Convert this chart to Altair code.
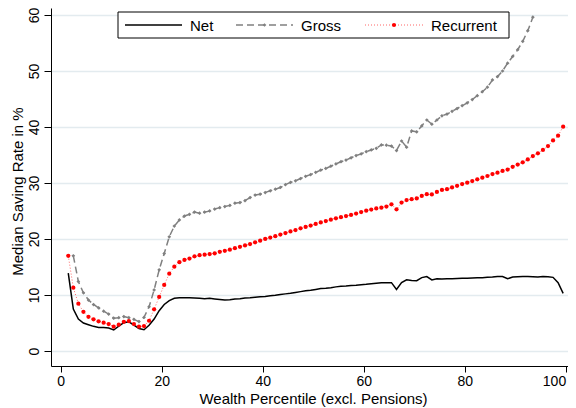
import altair as alt
import pandas as pd

# Percentile positions (midpoints)
percentiles = [p + 0.5 for p in range(1, 100)]          # 1.5 .. 99.5
gross_percentiles = [p + 0.5 for p in range(2, 94)]     # 2.5 .. 93.5

net = [
    13.9, 7.5, 5.7, 5.0, 4.7, 4.4, 4.2, 4.2, 4.1, 3.75,
    4.45, 5.05, 5.2, 4.6, 4.0, 3.8, 4.6, 5.7, 7.2, 8.3,
    9.0, 9.4, 9.5, 9.5, 9.5, 9.45, 9.4, 9.35, 9.4, 9.3,
    9.2, 9.1, 9.15, 9.3, 9.35, 9.45, 9.5, 9.6, 9.7, 9.75,
    9.85, 9.95, 10.1, 10.2, 10.3, 10.45, 10.6, 10.75, 10.85, 11.0,
    11.15, 11.2, 11.3, 11.45, 11.55, 11.6, 11.7, 11.75, 11.85, 11.9,
    12.0, 12.1, 12.2, 12.2, 12.2, 11.0, 12.2, 12.7, 12.6, 12.55,
    13.1, 13.3, 12.7, 12.9, 12.85, 12.9, 12.9, 12.95, 13.0, 13.0,
    13.05, 13.1, 13.1, 13.15, 13.2, 13.3, 13.3, 12.9, 13.2, 13.25,
    13.3, 13.3, 13.25, 13.2, 13.3, 13.25, 13.15, 12.2, 10.3,
]

gross = [
    17.0, 12.4, 10.4, 9.1, 8.3, 7.7, 7.1, 6.6, 5.85, 5.95,
    6.15, 5.95, 5.65, 5.25, 6.0, 7.9, 10.9, 14.5, 17.4, 20.4,
    22.3, 23.4, 24.1, 24.4, 24.8, 24.6, 24.8, 25.0, 25.35, 25.6,
    25.8, 26.0, 26.4, 26.5, 26.85, 27.4, 27.85, 28.0, 28.3, 28.6,
    28.9, 29.2, 29.7, 30.1, 30.4, 30.8, 31.2, 31.5, 31.9, 32.3,
    32.6, 33.0, 33.4, 33.8, 34.1, 34.5, 34.9, 35.2, 35.6, 35.9,
    36.2, 36.8, 36.75, 36.6, 35.8, 37.5, 36.4, 39.3, 39.15, 40.2,
    41.25, 40.5, 41.25, 42.0, 42.3, 42.8, 43.3, 43.8, 44.3, 44.9,
    45.6, 46.3, 47.1, 48.4, 49.0, 50.0, 51.4, 52.6, 53.8, 55.3,
    57.2, 59.6,
]

recurrent = [
    17.0, 11.3, 8.45, 7.0, 6.1, 5.65, 5.3, 5.05, 4.8, 4.35,
    4.7, 5.2, 5.35, 4.8, 4.35, 4.45, 5.4, 7.45, 9.65, 11.8,
    13.8, 15.05, 15.85, 16.25, 16.5, 16.9, 17.1, 17.2, 17.3, 17.45,
    17.7, 17.9, 18.1, 18.35, 18.6, 18.85, 19.1, 19.4, 19.7, 20.0,
    20.25, 20.5, 20.8, 21.05, 21.35, 21.6, 21.9, 22.15, 22.4, 22.7,
    22.95, 23.2, 23.45, 23.7, 23.9, 24.1, 24.3, 24.55, 24.8, 25.05,
    25.25, 25.45, 25.6, 25.8, 26.2, 25.3, 26.5, 26.95, 27.1, 27.25,
    27.7, 28.0, 27.95, 28.4, 28.75, 28.9, 29.2, 29.5, 29.8, 30.05,
    30.35, 30.65, 30.95, 31.25, 31.6, 31.85, 32.15, 32.4, 32.9, 33.3,
    33.7, 34.2, 34.8, 35.3, 35.9, 36.6, 37.6, 38.45, 40.05,
]

x_ticks = [0, 20, 40, 60, 80, 100]
y_ticks = [0, 10, 20, 30, 40, 50, 60]
legend_labels = ["Net", "Gross", "Recurrent"]

net_df = pd.DataFrame({"pct": percentiles, "rate": net})
gross_df = pd.DataFrame({"pct": gross_percentiles, "rate": gross})
rec_df = pd.DataFrame({"pct": percentiles, "rate": recurrent})
one = pd.DataFrame({"k": [0]})

FONT = "Liberation Sans"
W, H = 517, 358

xscale = alt.Scale(domain=[-1.92, 100.46], nice=False, zero=False)
yscale = alt.Scale(domain=[-2.68, 61.25], nice=False, zero=False)

x_axis = alt.Axis(
    values=x_ticks, title="Wealth Percentile (excl. Pensions)", grid=False,
    tickSize=6, labelPadding=2, labelFontSize=14, titleFontSize=15,
    titleX=262, titleY=32, titleBaseline="middle", titleAlign="center",
    labelOverlap=False, labelBound=False, labelFlush=3,
)
y_axis = alt.Axis(
    values=y_ticks, title="Median Saving Rate in %", grid=True,
    gridColor="#e3ebef", gridWidth=1.3,
    tickSize=7, labelPadding=6, labelAngle=270, labelAlign="center",
    labelBaseline="alphabetic", labelFontSize=14, titleFontSize=15,
    titleX=-34, titleY=183, titleBaseline="middle", titleAlign="center",
    titleAngle=270,
)

X = alt.X("pct:Q", scale=xscale, axis=x_axis)
Y = alt.Y("rate:Q", scale=yscale, axis=y_axis)

net_line = alt.Chart(net_df).mark_line(color="black", strokeWidth=1.5).encode(x=X, y=Y)

gross_line = alt.Chart(gross_df).mark_line(
    color="#808080", strokeWidth=1.5, strokeDash=[7, 4]
).encode(x=X, y=Y)
gross_pts = alt.Chart(gross_df).mark_point(
    filled=True, shape="diamond", size=14, color="#808080", opacity=1
).encode(x=X, y=Y)

rec_line = alt.Chart(rec_df).mark_line(
    color="#ff0000", strokeWidth=1, strokeDash=[1, 2], opacity=0.6
).encode(x=X, y=Y)
rec_pts = alt.Chart(rec_df).mark_point(
    filled=True, shape="circle", size=18, color="#ff0000", opacity=1
).encode(x=X, y=Y)

# Legend (drawn inside the plot, top)
ly = 17
leg_box = alt.Chart(one).mark_rect(fill="white", stroke="black", strokeWidth=1).encode(
    x=alt.value(67), x2=alt.value(458), y=alt.value(4), y2=alt.value(30)
)
leg_net = alt.Chart(one).mark_rule(color="black", strokeWidth=1.5).encode(
    x=alt.value(74), x2=alt.value(131), y=alt.value(ly)
)
leg_gross = alt.Chart(one).mark_rule(color="#808080", strokeWidth=1.5, strokeDash=[7, 4]).encode(
    x=alt.value(185), x2=alt.value(242), y=alt.value(ly)
)
leg_gross_pt = alt.Chart(one).mark_point(
    filled=True, shape="diamond", size=14, color="#808080", opacity=1
).encode(x=alt.value(213.5), y=alt.value(ly))
leg_rec = alt.Chart(one).mark_rule(color="#ff0000", strokeWidth=1, strokeDash=[1, 2], opacity=0.6).encode(
    x=alt.value(314), x2=alt.value(372), y=alt.value(ly)
)
leg_rec_pt = alt.Chart(one).mark_point(
    filled=True, shape="circle", size=18, color="#ff0000", opacity=1
).encode(x=alt.value(343), y=alt.value(ly))

leg_texts = [
    alt.Chart(one).mark_text(align="left", baseline="middle", fontSize=15, font=FONT, color="black").encode(
        x=alt.value(xp), y=alt.value(ly + 0.5), text=alt.value(lbl)
    )
    for xp, lbl in zip([139, 250, 380], legend_labels)
]

chart = alt.layer(
    net_line, gross_line, gross_pts, rec_line, rec_pts,
    leg_box, leg_net, leg_gross, leg_gross_pt, leg_rec, leg_rec_pt, *leg_texts,
).properties(
    width=W, height=H,
    autosize=alt.AutoSizeParams(type="none"),
    padding={"left": 43, "top": 0, "right": 0, "bottom": 42},
    background="white",
).configure_view(
    stroke=None
).configure_axis(
    domainColor="black", domainWidth=1, tickColor="black", tickWidth=1,
    labelColor="black", titleColor="black", labelFont=FONT, titleFont=FONT,
    titleFontWeight="normal",
)

chart.save("out.html", embed_options={"renderer": "svg", "actions": False})
